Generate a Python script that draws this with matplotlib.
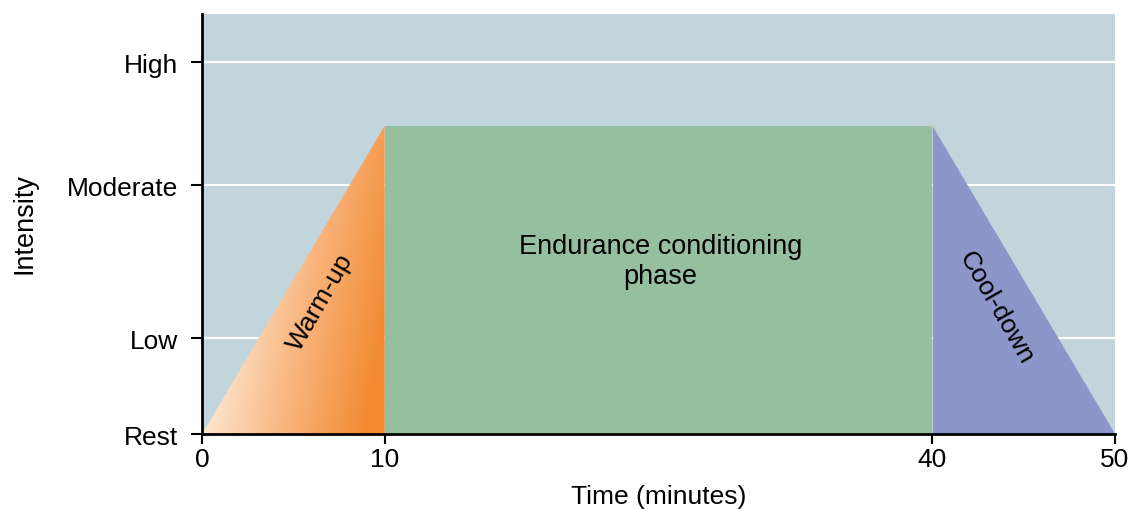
import numpy as np
import matplotlib.pyplot as plt
from matplotlib.colors import LinearSegmentedColormap
from matplotlib.patches import Polygon

plt.rcParams['font.family'] = ['Liberation Sans', 'DejaVu Sans']

# data
time_pts = [0, 10, 40, 50]          # minutes
intensity_pts = [0, 3.08, 3.08, 0]  # rest -> plateau -> rest
level_names = ["Rest", "Low", "Moderate", "High"]
level_vals = [0, 0.96, 2.49, 3.72]
x_ticks = [0, 10, 40, 50]
phase_labels = ["Warm-up", "Endurance conditioning\nphase", "Cool-down"]

bg = '#c3d5dc'
green = '#96bfa0'
purple = '#8d96c9'

fig = plt.figure(figsize=(11.33, 5.10), dpi=100)
ax = fig.add_axes([0.1783, 0.147, 0.8058, 0.8235])
ax.set_facecolor(bg)
ax.set_xlim(0, 50)
ax.set_ylim(0, 4.2)

# grid lines at intensity levels
for v in level_vals[1:]:
    ax.axhline(v, color='white', lw=1.5, zorder=1)

# warm-up: gradient triangle
tri = Polygon([(time_pts[0], intensity_pts[0]), (time_pts[1], intensity_pts[1]),
               (time_pts[1], 0)], closed=True, facecolor='none', edgecolor='none')
ax.add_patch(tri)
cmap = LinearSegmentedColormap.from_list('warm', ['#fde6d0', '#f9b47c', '#f28a30'])
gx, gy = np.meshgrid(np.linspace(0, 1, 200), np.linspace(0, 1, 200))
grad = np.clip(gx - 0.3 * gy, 0, 1)
im = ax.imshow(grad, cmap=cmap, extent=[time_pts[0], time_pts[1], 0, intensity_pts[1]],
               origin='lower', aspect='auto', zorder=2, vmin=0, vmax=0.9)
im.set_clip_path(tri)

# endurance phase
ax.fill_between(time_pts[1:3], 0, intensity_pts[1:3], color=green, lw=0, zorder=2)
# cool-down
ax.fill_between(time_pts[2:4], 0, intensity_pts[2:4], color=purple, lw=0, zorder=2)

# labels on phases
ax.text(6.5, 1.33, phase_labels[0], rotation=60, ha='center', va='center', fontsize=19, zorder=3)
ax.text(25.1, 1.73, phase_labels[1], ha='center', va='center', fontsize=19.5,
        linespacing=1.2, zorder=3)
ax.text(43.5, 1.27, phase_labels[2], rotation=-60, ha='center', va='center', fontsize=19, zorder=3)

ax.set_yticks(level_vals)
ax.set_yticklabels(level_names, fontsize=19)
ax.set_xticks(x_ticks)
ax.set_xticklabels([str(t) for t in x_ticks], fontsize=19)
ax.tick_params(axis='y', length=8, width=1.5, pad=9)
ax.tick_params(axis='x', length=7, width=1.5, pad=2)

for s in ['top', 'right']:
    ax.spines[s].set_visible(False)
for s in ['left', 'bottom']:
    ax.spines[s].set_linewidth(2)
    ax.spines[s].set_zorder(5)

ax.set_xlabel("Time (minutes)", fontsize=19, labelpad=10)
fig.text(25 / 1133, 1 - 224 / 510, "Intensity", rotation=90, ha='center', va='center', fontsize=19.5)

fig.savefig('out.png', dpi=100)
